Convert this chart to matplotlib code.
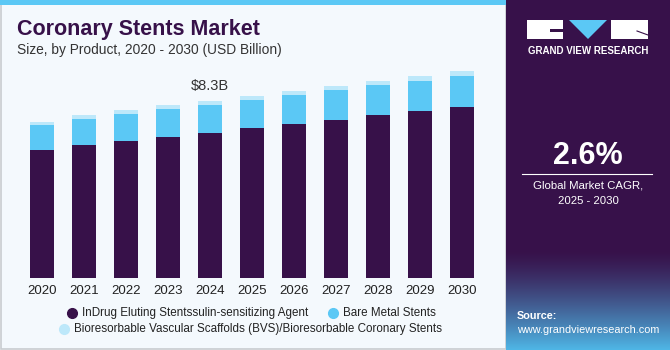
import numpy as np
import matplotlib.pyplot as plt
from matplotlib.patches import Rectangle, Polygon
from matplotlib.lines import Line2D

years = ['2020', '2021', '2022', '2023', '2024', '2025', '2026', '2027', '2028', '2029', '2030']
drug_eluting = [6.00, 6.24, 6.43, 6.63, 6.81, 7.03, 7.22, 7.42, 7.63, 7.84, 8.03]
bare_metal = [1.18, 1.22, 1.26, 1.30, 1.30, 1.31, 1.36, 1.39, 1.40, 1.40, 1.45]
bioresorbable = [0.15, 0.19, 0.19, 0.17, 0.19, 0.19, 0.19, 0.19, 0.20, 0.23, 0.22]
series_names = ['InDrug Eluting Stentssulin-sensitizing Agent', 'Bare Metal Stents',
                'Bioresorbable Vascular Scaffolds (BVS)/Bioresorbable Coronary Stents']
highlight_year = 4
highlight_label = '$8.3B'

DARK = '#371149'
BLUE = '#5BC8F5'
LIGHT = '#BDE8FA'
BG = '#F4F9FD'
W, H = 670, 350

plt.rcParams['font.family'] = ['Liberation Sans', 'DejaVu Sans']

fig = plt.figure(figsize=(W / 100, H / 100), dpi=100)
fig.patch.set_facecolor('white')


def fx(px):
    return px / W


def fy(py):
    return 1 - py / H


# left panel background + border
fig.add_artist(Rectangle((fx(1), fy(349)), fx(505), 348 / H, transform=fig.transFigure,
                         facecolor=BG, edgecolor='#C8CCD0', lw=1.2, zorder=-5))
fig.add_artist(Rectangle((0, fy(5)), fx(506), 5 / H, transform=fig.transFigure,
                         facecolor=BLUE, edgecolor='none', zorder=-4))

# right panel with gradient at the bottom
pax = fig.add_axes([fx(506), 0, fx(164), 1])
grad = np.ones((350, 1, 3))
purple = np.array([0x37, 0x11, 0x4A]) / 255
blue = np.array([0x4F, 0xB8, 0xE8]) / 255
for i in range(350):
    t = min(max((i - 250) / 100, 0), 1) ** 1.3
    grad[i, 0] = purple * (1 - t) + blue * t
pax.imshow(grad, aspect='auto', extent=[0, 164, 350, 0])
pax.set_xlim(0, 164)
pax.set_ylim(350, 0)
pax.axis('off')

# logo
pax.add_patch(Rectangle((21, 20), 36, 19, facecolor='white'))
pax.add_patch(Rectangle((44, 29), 13, 3, facecolor=DARK))
pax.add_patch(Polygon([[63, 20], [101, 20], [82, 39]], facecolor=BLUE))
pax.add_patch(Rectangle((105, 20), 37, 19, facecolor='white'))
pax.plot([131, 142], [31, 35], color=DARK, lw=0.8)
pax.text(82, 51, 'GRAND VIEW RESEARCH', color='white', fontsize=7, fontweight='bold',
         ha='center', va='center')
pax.text(82, 156, '2.6%', color='white', fontsize=22, fontweight='bold', ha='center', va='center')
pax.plot([16, 146], [173.5, 173.5], color='white', lw=0.8)
pax.text(82, 186, 'Global Market CAGR,', color='white', fontsize=8.2, ha='center', va='center')
pax.text(82, 201, '2025 - 2030', color='white', fontsize=8.2, ha='center', va='center')
pax.text(11, 316, 'Source:', color='white', fontsize=7.8, fontweight='bold', ha='left', va='center')
pax.text(11, 330, 'www.grandviewresearch.com', color='white', fontsize=7.8, ha='left', va='center')

# title
fig.text(fx(17), fy(29), 'Coronary Stents Market', color=DARK, fontsize=15.5, fontweight='bold',
         ha='left', va='center')
fig.text(fx(17), fy(50), 'Size, by Product, 2020 - 2030 (USD Billion)', color='#333333',
         fontsize=9.9, ha='left', va='center')

# bars
ymax = 10.5
ax = fig.add_axes([fx(21), 71.7 / H, fx(462), (ymax / 0.0468) / H])
ax.set_facecolor('none')
x = np.arange(len(years))
bw = 0.565
ax.bar(x, drug_eluting, bw, color=DARK)
ax.bar(x, bare_metal, bw, bottom=drug_eluting, color=BLUE)
bottom2 = np.array(drug_eluting) + np.array(bare_metal)
ax.bar(x, bioresorbable, bw, bottom=bottom2, color=LIGHT)
ax.set_xlim(-0.5, len(years) - 0.5)
ax.set_ylim(0, ymax)
ax.set_xticks(x)
ax.set_xticklabels(years, fontsize=9.5, color='#222222')
ax.tick_params(axis='x', length=0, pad=5)
ax.set_yticks([])
for s in ax.spines.values():
    s.set_visible(False)
total = bottom2 + np.array(bioresorbable)
ax.text(x[highlight_year], total[highlight_year] + 0.35, highlight_label, ha='center', va='bottom',
        fontsize=10.5, color='#333333')

# legend
colors = [DARK, BLUE, LIGHT]
legend_pos = [(72, 313), (333, 313), (64, 329)]
for (px, py), c, name in zip(legend_pos, colors, series_names):
    fig.add_artist(Line2D([fx(px)], [fy(py)], marker='o', markersize=7, color=c, lw=0,
                          transform=fig.transFigure))
    fig.text(fx(px + 10), fy(py), name, fontsize=8.4, color='#222222', ha='left', va='center')

fig.savefig('out.png', dpi=100, facecolor=fig.get_facecolor())
